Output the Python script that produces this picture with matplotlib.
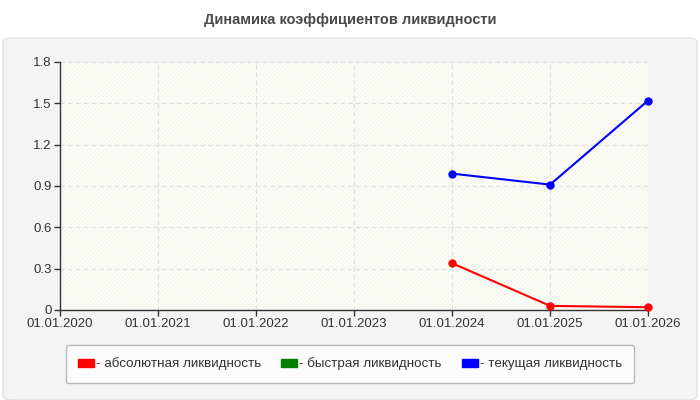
import datetime as dt
import matplotlib
matplotlib.use('Agg')
import matplotlib.pyplot as plt
import matplotlib.dates as mdates
from matplotlib.patches import FancyBboxPatch, Rectangle, Patch

plt.rcParams['font.family'] = ['Liberation Sans', 'DejaVu Sans']
plt.rcParams['hatch.linewidth'] = 0.6

years = [2020, 2021, 2022, 2023, 2024, 2025, 2026]
dates_data = [dt.datetime(2024, 1, 1), dt.datetime(2025, 1, 1), dt.datetime(2026, 1, 1)]
absolute = [0.34, 0.03, 0.02]
current = [0.99, 0.91, 1.52]
quick = []
y_ticks = [0, 0.3, 0.6, 0.9, 1.2, 1.5, 1.8]
labels = ['- абсолютная ликвидность', '- быстрая ликвидность', '- текущая ликвидность']
colors = ['#ff0000', '#008000', '#0000ff']

fig = plt.figure(figsize=(7, 4), dpi=100)
fig.patch.set_facecolor('white')

# gray panel behind the chart
panel = FancyBboxPatch((3 / 700, 0.0), 694 / 700, 362 / 400,
                       boxstyle='round,pad=0,rounding_size=0.012',
                       transform=fig.transFigure, facecolor='#f4f4f4',
                       edgecolor='#e2e2e2', linewidth=1, zorder=-5)
fig.patches.append(panel)

fig.text(0.5, 380 / 400, 'Динамика коэффициентов ликвидности', ha='center', va='center',
         fontsize=10.5, fontweight='bold', color='#4a4a4a')

ax = fig.add_axes([60 / 700, 90 / 400, 588 / 700, 248 / 400])
ax.set_zorder(1)
ax.set_facecolor('#fdfdf8')
ax.add_patch(Rectangle((0, 0), 1, 1, transform=ax.transAxes, facecolor='none',
                       edgecolor='#f0f0ec', hatch='////////', linewidth=0, zorder=0))

xt = [dt.datetime(y, 1, 1) for y in years]
ax.plot(dates_data, absolute, color=colors[0], lw=1.5, marker='o', ms=5, zorder=3, clip_on=False)
ax.plot(dates_data, current, color=colors[2], lw=1.5, marker='o', ms=5, zorder=3, clip_on=False)

ax.set_xlim(xt[0], xt[-1])
ax.set_ylim(0, 1.8)
ax.set_xticks(xt)
ax.xaxis.set_major_formatter(mdates.DateFormatter('%d.%m.%Y'))
ax.set_yticks(y_ticks)
ax.set_yticklabels(['0', '0.3', '0.6', '0.9', '1.2', '1.5', '1.8'])
ax.tick_params(labelsize=9.5, colors='#333333', direction='out', length=4, width=1, pad=2)
ax.grid(True, color='#e0e0e0', linestyle=(0, (4, 3)), linewidth=0.8)
ax.set_axisbelow(True)
for s in ['top', 'right']:
    ax.spines[s].set_visible(False)
for s in ['left', 'bottom']:
    ax.spines[s].set_color('#333333')
    ax.spines[s].set_linewidth(1)

handles = [Patch(facecolor=c, edgecolor=c) for c in colors]
leg = fig.legend(handles, labels, loc='center', bbox_to_anchor=(350 / 700, 36 / 400),
                 ncol=3, frameon=True, fancybox=True, fontsize=9.6, handlelength=1.2,
                 handleheight=0.55, handletextpad=0.15, columnspacing=1.5,
                 borderpad=0.95, borderaxespad=0)
leg.get_frame().set_edgecolor('#aaaaaa')
leg.get_frame().set_facecolor('white')
leg.get_frame().set_linewidth(1)
for t in leg.get_texts():
    t.set_color('#333333')

fig.savefig('out.png', dpi=100)
